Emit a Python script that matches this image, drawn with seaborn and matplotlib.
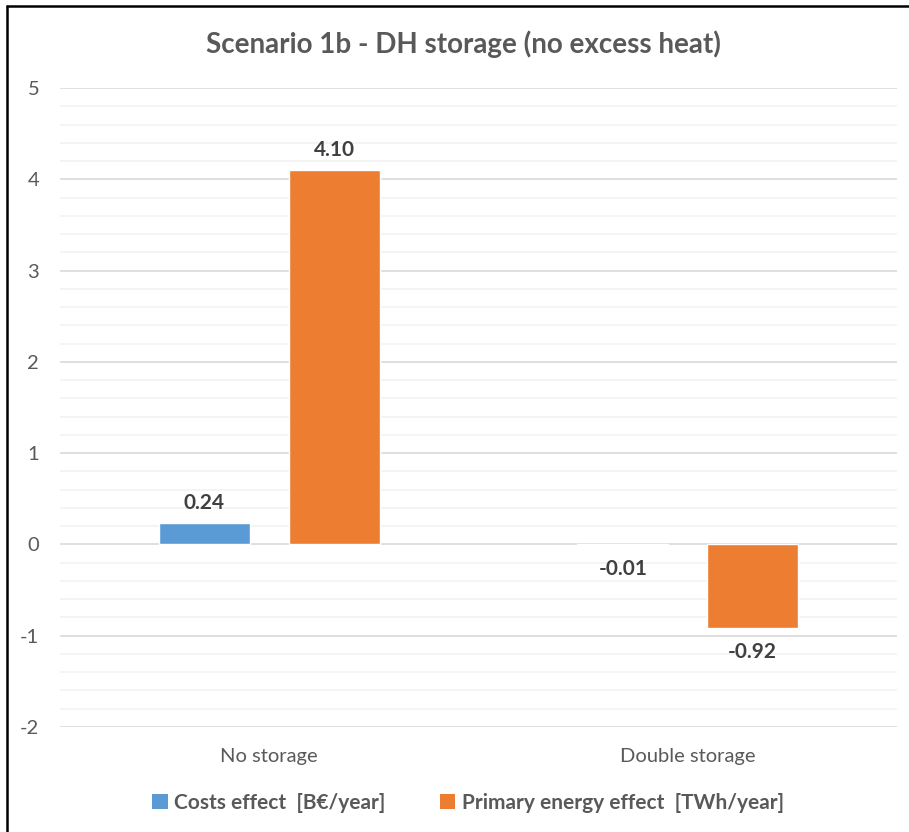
import matplotlib
matplotlib.use("Agg")
import matplotlib.pyplot as plt
from matplotlib.lines import Line2D
from matplotlib.patches import Patch
from matplotlib.ticker import MultipleLocator
import seaborn as sns
import pandas as pd

# Chart data
scenarios = ["No storage", "Double storage"]
series_names = ["Costs effect  [B€/year]", "Primary energy effect  [TWh/year]"]
costs_effect = [0.24, -0.01]
primary_energy_effect = [4.10, -0.92]
y_ticks = [-2, -1, 0, 1, 2, 3, 4, 5]

colors = ["#5B9BD5", "#ED7D31"]
text_gray = "#595959"
label_gray = "#404040"

df = pd.DataFrame({
    "scenario": scenarios * 2,
    "series": [series_names[0]] * len(scenarios) + [series_names[1]] * len(scenarios),
    "value": costs_effect + primary_energy_effect,
})

sns.set_theme(style="white")
plt.rcParams["font.family"] = ["Lato", "DejaVu Sans"]
plt.rcParams["axes.unicode_minus"] = False

W, H = 909, 832
fig = plt.figure(figsize=(W / 100, H / 100), dpi=100)
ax = fig.add_axes([60 / W, 1 - 727 / H, (897 - 60) / W, (727 - 88) / H])

sns.barplot(data=df, x="scenario", y="value", hue="series", palette=colors,
            width=0.62, gap=0.3, ax=ax, legend=False, saturation=1, errorbar=None)

ax.set_ylim(-2, 5)
ax.set_xlim(-0.5, 1.5)
ax.set_yticks(y_ticks)
ax.yaxis.set_minor_locator(MultipleLocator(0.2))
ax.grid(which="major", axis="y", color="#D9D9D9", linewidth=1.2)
ax.grid(which="minor", axis="y", color="#F2F2F2", linewidth=1.2)
ax.set_axisbelow(True)
for s in ax.spines.values():
    s.set_visible(False)
ax.tick_params(axis="both", which="both", length=0)
ax.tick_params(axis="y", labelsize=14.5, labelcolor=text_gray, pad=15)
ax.tick_params(axis="x", labelsize=14.5, labelcolor=text_gray, pad=15)
ax.set_xlabel("")
ax.set_ylabel("")

# Value labels outside the bar ends
for container in ax.containers:
    for bar in container:
        v = bar.get_height() if bar.get_y() >= 0 else bar.get_y()
        x = bar.get_x() + bar.get_width() / 2
        if v >= 0:
            ax.annotate(f"{v:.2f}", (x, v), xytext=(0, 7), textcoords="offset points",
                        ha="center", va="bottom", fontsize=15, fontweight="bold",
                        color=label_gray)
        else:
            ax.annotate(f"{v:.2f}", (x, v), xytext=(0, -10), textcoords="offset points",
                        ha="center", va="top", fontsize=15, fontweight="bold",
                        color=label_gray)

fig.text(463 / W, 1 - 44 / H, "Scenario 1b - DH storage (no excess heat)",
         ha="center", va="center", fontsize=20, fontweight="bold", color=text_gray)

handles = [Patch(facecolor=c, edgecolor="none") for c in colors]
fig.legend(handles, series_names, loc="center", bbox_to_anchor=(468 / W, 1 - 803 / H),
           ncol=2, frameon=False, handlelength=0.75, handleheight=0.75,
           handletextpad=0.3, columnspacing=2.6,
           prop={"weight": "bold", "size": 15})
for t in fig.legends[0].get_texts():
    t.set_color(text_gray)

# Frame lines along the left and top edges
fig.add_artist(Line2D([7 / W, 7 / W], [0, 1 - 6 / H], transform=fig.transFigure,
                      color="black", linewidth=1.8))
fig.add_artist(Line2D([7 / W, 1], [1 - 6 / H, 1 - 6 / H], transform=fig.transFigure,
                      color="black", linewidth=1.8))

fig.savefig("out.png", dpi=100, facecolor="white")
